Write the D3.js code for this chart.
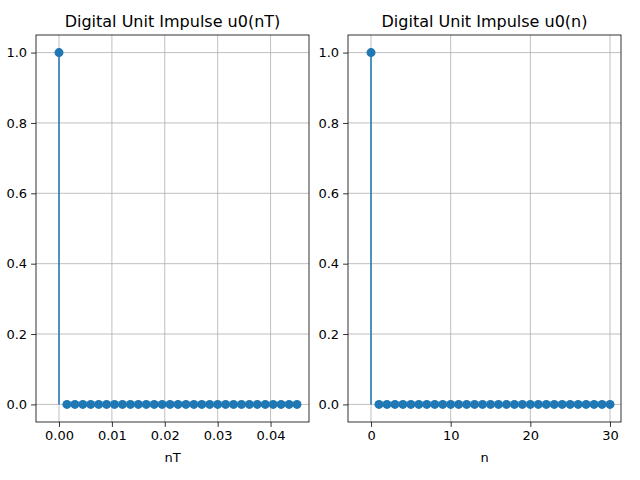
<!DOCTYPE html><html><head><script src="https://d3js.org/d3.v7.min.js"></script>
<style>body{margin:0;background:#fff}text{font-family:"DejaVu Sans";}</style></head><body>
<svg id="c" width="640" height="480"></svg>
<script>
const n=[0,1,2,3,4,5,6,7,8,9,10,11,12,13,14,15,16,17,18,19,20,21,22,23,24,25,26,27,28,29,30];
const u0=[1,0,0,0,0,0,0,0,0,0,0,0,0,0,0,0,0,0,0,0,0,0,0,0,0,0,0,0,0,0,0];
const T=0.0015;
const nT=n.map(v=>v*T);
const yTicks=[0,0.2,0.4,0.6,0.8,1.0];
const svg=d3.select("#c");
const C="#1f77b4";
function panel(x0,x1,xs,xdom,xticks,fmt,title,xlabel){
  const top=35,bot=422;
  const x=d3.scaleLinear().domain(xdom).range([x0,x1]);
  const y=d3.scaleLinear().domain([-0.05,1.05]).range([bot,top]);
  const g=svg.append("g");
  xticks.forEach(t=>g.append("line").attr("x1",x(t)).attr("x2",x(t)).attr("y1",top).attr("y2",bot).attr("stroke","#b0b0b0").attr("stroke-width",0.8));
  yTicks.forEach(t=>g.append("line").attr("x1",x0).attr("x2",x1).attr("y1",y(t)).attr("y2",y(t)).attr("stroke","#b0b0b0").attr("stroke-width",0.8));
  xs.forEach((v,i)=>g.append("line").attr("x1",x(v)).attr("x2",x(v)).attr("y1",y(0)).attr("y2",y(u0[i])).attr("stroke",C).attr("stroke-width",1.5));
  xs.forEach((v,i)=>g.append("circle").attr("cx",x(v)).attr("cy",y(u0[i])).attr("r",4.5).attr("fill",C));
  const ax=g.append("g").attr("transform",`translate(0,${bot})`).call(d3.axisBottom(x).tickValues(xticks).tickFormat(fmt).tickSize(4.9).tickPadding(4).tickSizeOuter(0));
  const ay=g.append("g").attr("transform",`translate(${x0},0)`).call(d3.axisLeft(y).tickValues(yTicks).tickFormat(d3.format(".1f")).tickSize(4.9).tickPadding(4).tickSizeOuter(0));
  [ax,ay].forEach(a=>{a.select(".domain").remove();a.selectAll("text").attr("font-size",13).attr("font-family","DejaVu Sans").attr("fill","#000");a.selectAll("line").attr("stroke","#000").attr("stroke-width",0.8);});
  g.append("rect").attr("x",x0).attr("y",top).attr("width",x1-x0).attr("height",bot-top).attr("fill","none").attr("stroke","#000").attr("stroke-width",0.8);
  g.append("text").attr("x",(x0+x1)/2).attr("y",27).attr("text-anchor","middle").attr("font-size",16).text(title);
  g.append("text").attr("x",(x0+x1)/2).attr("y",462).attr("text-anchor","middle").attr("font-size",13).text(xlabel);
}
panel(36,309,nT,[-0.00435,0.04727],[0,0.01,0.02,0.03,0.04],d3.format(".2f"),"Digital Unit Impulse u0(nT)","nT");
panel(348,621,n,[-2.89,31.38],[0,10,20,30],d3.format("d"),"Digital Unit Impulse u0(n)","n");
</script></body></html>
